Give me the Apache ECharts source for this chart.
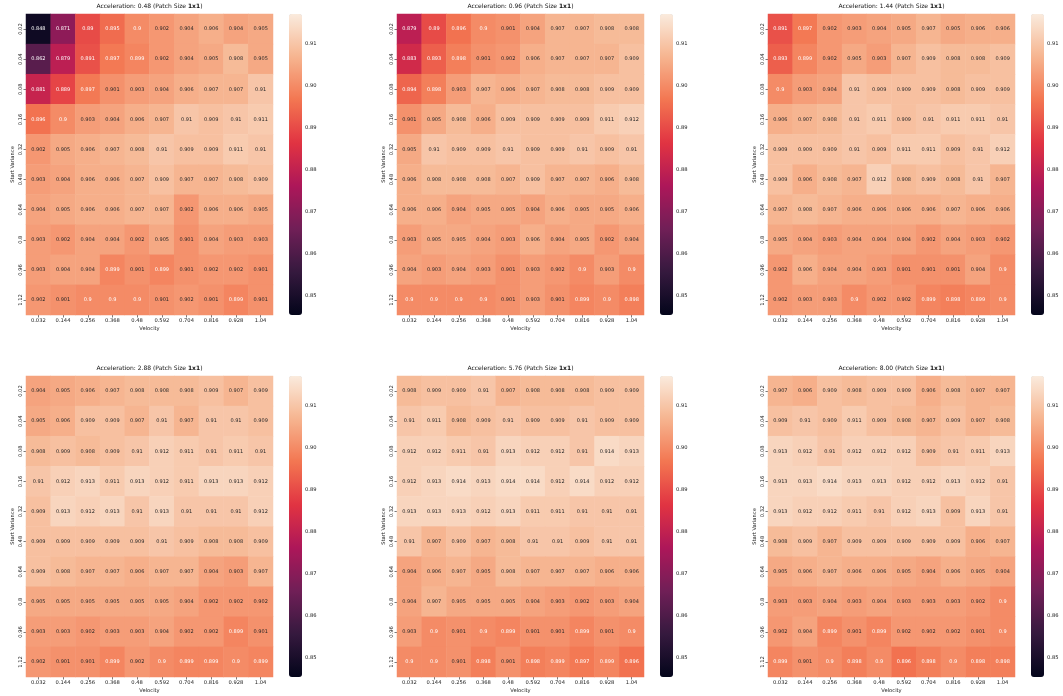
<!DOCTYPE html>
<html><head><meta charset="utf-8">
<script src="https://cdn.jsdelivr.net/npm/echarts@6/dist/echarts.min.js"></script>
<style>html,body{margin:0;padding:0;background:#fff}#c{width:1063px;height:696px}</style>
</head><body><div id="c"></div>
<script>
const velocities = ['0.032','0.144','0.256','0.368','0.48','0.592','0.704','0.816','0.928','1.04'];
const startVariances = ['0.02','0.04','0.08','0.16','0.32','0.48','0.64','0.8','0.96','1.12'];
const accelerations = ['0.48','0.96','1.44','2.88','5.76','8.00'];
const cbarTicks = [0.85,0.86,0.87,0.88,0.89,0.90,0.91];

const acc048 = [
 [0.848,0.871,0.89,0.895,0.9,0.902,0.904,0.906,0.904,0.905],
 [0.862,0.879,0.891,0.897,0.899,0.902,0.904,0.905,0.908,0.905],
 [0.881,0.889,0.897,0.901,0.903,0.904,0.906,0.907,0.907,0.91],
 [0.896,0.9,0.903,0.904,0.906,0.907,0.91,0.909,0.91,0.911],
 [0.902,0.905,0.906,0.907,0.908,0.91,0.909,0.909,0.911,0.91],
 [0.903,0.904,0.906,0.906,0.907,0.909,0.907,0.907,0.908,0.909],
 [0.904,0.905,0.906,0.906,0.907,0.907,0.902,0.906,0.906,0.905],
 [0.903,0.902,0.904,0.904,0.902,0.905,0.901,0.904,0.903,0.903],
 [0.903,0.904,0.904,0.899,0.901,0.899,0.901,0.902,0.902,0.901],
 [0.902,0.901,0.9,0.9,0.9,0.901,0.902,0.901,0.899,0.901]
];
const acc096 = [
 [0.879,0.89,0.896,0.9,0.901,0.904,0.907,0.907,0.908,0.908],
 [0.883,0.893,0.898,0.901,0.902,0.906,0.907,0.907,0.907,0.909],
 [0.894,0.898,0.903,0.907,0.906,0.907,0.908,0.908,0.909,0.909],
 [0.901,0.905,0.908,0.906,0.909,0.909,0.909,0.909,0.911,0.912],
 [0.905,0.91,0.909,0.909,0.91,0.909,0.909,0.91,0.909,0.91],
 [0.906,0.908,0.908,0.908,0.907,0.909,0.907,0.907,0.906,0.908],
 [0.906,0.906,0.904,0.905,0.905,0.904,0.906,0.905,0.905,0.906],
 [0.903,0.905,0.905,0.904,0.903,0.906,0.904,0.905,0.902,0.904],
 [0.904,0.903,0.904,0.903,0.901,0.903,0.902,0.9,0.903,0.9],
 [0.9,0.9,0.9,0.9,0.901,0.903,0.901,0.899,0.9,0.898]
];
const acc144 = [
 [0.891,0.897,0.902,0.903,0.904,0.905,0.907,0.905,0.906,0.906],
 [0.893,0.899,0.902,0.905,0.903,0.907,0.909,0.908,0.908,0.909],
 [0.9,0.903,0.904,0.91,0.909,0.909,0.909,0.908,0.909,0.909],
 [0.906,0.907,0.908,0.91,0.911,0.909,0.91,0.911,0.911,0.91],
 [0.909,0.909,0.909,0.91,0.909,0.911,0.911,0.909,0.91,0.912],
 [0.909,0.906,0.908,0.907,0.912,0.908,0.909,0.908,0.91,0.907],
 [0.907,0.908,0.907,0.906,0.906,0.906,0.906,0.907,0.906,0.906],
 [0.905,0.904,0.903,0.904,0.904,0.904,0.902,0.904,0.903,0.902],
 [0.902,0.906,0.904,0.904,0.903,0.901,0.901,0.901,0.904,0.9],
 [0.902,0.903,0.903,0.9,0.902,0.902,0.899,0.898,0.899,0.9]
];
const acc288 = [
 [0.904,0.905,0.906,0.907,0.908,0.908,0.908,0.909,0.907,0.909],
 [0.905,0.906,0.909,0.909,0.907,0.91,0.907,0.91,0.91,0.909],
 [0.908,0.909,0.908,0.909,0.91,0.912,0.911,0.91,0.911,0.91],
 [0.91,0.912,0.913,0.911,0.913,0.912,0.911,0.913,0.913,0.912],
 [0.909,0.913,0.912,0.913,0.91,0.913,0.91,0.91,0.91,0.912],
 [0.909,0.909,0.909,0.909,0.909,0.91,0.909,0.908,0.908,0.909],
 [0.909,0.908,0.907,0.907,0.906,0.907,0.907,0.904,0.903,0.907],
 [0.905,0.905,0.905,0.905,0.905,0.905,0.904,0.902,0.902,0.902],
 [0.903,0.903,0.902,0.903,0.903,0.904,0.902,0.902,0.899,0.901],
 [0.902,0.901,0.901,0.899,0.902,0.9,0.899,0.899,0.9,0.899]
];
const acc576 = [
 [0.908,0.909,0.909,0.91,0.907,0.908,0.908,0.908,0.909,0.909],
 [0.91,0.911,0.908,0.909,0.91,0.909,0.909,0.91,0.909,0.909],
 [0.912,0.912,0.911,0.91,0.913,0.912,0.912,0.91,0.914,0.913],
 [0.912,0.913,0.914,0.913,0.914,0.914,0.912,0.914,0.912,0.912],
 [0.913,0.913,0.913,0.912,0.913,0.911,0.911,0.91,0.91,0.91],
 [0.91,0.907,0.909,0.907,0.908,0.91,0.91,0.909,0.91,0.91],
 [0.904,0.906,0.907,0.905,0.908,0.907,0.907,0.907,0.906,0.906],
 [0.904,0.907,0.905,0.905,0.905,0.904,0.903,0.902,0.903,0.904],
 [0.903,0.9,0.901,0.9,0.899,0.901,0.901,0.899,0.901,0.9],
 [0.9,0.9,0.901,0.898,0.901,0.898,0.899,0.897,0.899,0.896]
];
const acc800 = [
 [0.907,0.906,0.909,0.908,0.909,0.909,0.906,0.908,0.907,0.907],
 [0.909,0.91,0.909,0.911,0.909,0.908,0.907,0.909,0.907,0.908],
 [0.913,0.912,0.91,0.912,0.912,0.912,0.909,0.91,0.911,0.913],
 [0.913,0.913,0.914,0.913,0.913,0.912,0.912,0.913,0.912,0.91],
 [0.913,0.912,0.912,0.911,0.91,0.912,0.913,0.909,0.913,0.91],
 [0.908,0.909,0.907,0.909,0.909,0.909,0.909,0.909,0.906,0.907],
 [0.905,0.906,0.907,0.906,0.906,0.905,0.904,0.906,0.905,0.904],
 [0.903,0.903,0.904,0.903,0.904,0.903,0.903,0.903,0.902,0.9],
 [0.902,0.904,0.899,0.901,0.899,0.902,0.902,0.902,0.901,0.9],
 [0.899,0.901,0.9,0.898,0.9,0.896,0.898,0.9,0.898,0.898]
];
const panels = [acc048, acc096, acc144, acc288, acc576, acc800];

const VMIN = 0.8455, VMAX = 0.917;
const ROCKET = ['#03051a','#35193e','#701f57','#ad1759','#e13342','#f37651','#f6b48f','#faebdd'];
const FONT = 'DejaVu Sans';
const COL_LEFT = [26, 397, 768];
const ROW_TOP = [14, 376];
const W = 247, H = 301, CB_GAP = 16, CB_W = 13;

const fmt = v => String(Number(v.toPrecision(3)));

const grids = [], xAxes = [], yAxes = [], series = [], helpers = [], visualMaps = [], titles = [];
for (let i = 0; i < 6; i++) {
  const col = i % 3, row = Math.floor(i / 3);
  const L = COL_LEFT[col], T = ROW_TOP[row];
  grids.push({left: L, top: T, width: W, height: H});
  grids.push({left: L + W + CB_GAP, top: T, width: CB_W, height: H});
  const tickStyle = {show: true, alignWithLabel: true, length: 2.5, lineStyle: {color: '#222', width: 0.6}};
  xAxes.push({
    gridIndex: 2 * i, type: 'category', data: velocities, position: 'bottom',
    axisLine: {show: false}, axisTick: tickStyle, splitLine: {show: false},
    axisLabel: {fontFamily: FONT, fontSize: 5.2, color: '#222', margin: 3, interval: 0},
    name: 'Velocity', nameLocation: 'middle', nameGap: 11,
    nameTextStyle: {fontFamily: FONT, fontSize: 5.2, color: '#222'}
  });
  xAxes.push({gridIndex: 2 * i + 1, type: 'value', min: 0, max: 1, show: false});
  yAxes.push({
    gridIndex: 2 * i, type: 'category', data: startVariances, inverse: true,
    axisLine: {show: false}, axisTick: tickStyle, splitLine: {show: false},
    axisLabel: {fontFamily: FONT, fontSize: 5.2, color: '#222', margin: 3, rotate: 90, interval: 0},
    name: 'Start Variance', nameLocation: 'middle', nameGap: 11, nameRotate: 90,
    nameTextStyle: {fontFamily: FONT, fontSize: 5.2, color: '#222'}
  });
  yAxes.push({
    gridIndex: 2 * i + 1, type: 'value', min: VMIN, max: VMAX, position: 'right',
    axisLine: {show: false}, splitLine: {show: false},
    axisTick: {show: true, customValues: cbarTicks, length: 2.5, lineStyle: {color: '#222', width: 0.6}},
    axisLabel: {customValues: cbarTicks, fontFamily: FONT, fontSize: 5.2, color: '#222', margin: 3,
                formatter: v => v.toFixed(2)}
  });
  const data = [];
  panels[i].forEach((rowVals, r) => rowVals.forEach((v, c) => {
    data.push({value: [c, r, v], label: {color: v <= 0.9 ? '#ffffff' : '#262626'}});
  }));
  series.push({
    type: 'heatmap', xAxisIndex: 2 * i, yAxisIndex: 2 * i, data: data,
    label: {show: true, fontFamily: FONT, fontSize: 5, formatter: p => fmt(p.value[2])},
    emphasis: {disabled: true}, itemStyle: {borderWidth: 0}
  });
  helpers.push({type: 'scatter', xAxisIndex: 2 * i + 1, yAxisIndex: 2 * i + 1, data: [], silent: true});
  visualMaps.push({
    type: 'continuous', seriesIndex: i, min: VMIN, max: VMAX, inRange: {color: ROCKET},
    left: L + W + CB_GAP, top: T, itemWidth: CB_W, itemHeight: H, padding: 0,
    calculable: false, hoverLink: false, orient: 'vertical'
  });
  titles.push({
    text: '{n|Acceleration: ' + accelerations[i] + ' (Patch Size }{b|1x1}{n|)}',
    left: L + W / 2, top: T - 11, textAlign: 'center', padding: 0,
    textStyle: {fontWeight: 'normal', fontFamily: FONT, fontSize: 6, color: '#111', rich: {
      n: {fontFamily: FONT, fontSize: 6, color: '#111', fontWeight: 'normal'},
      b: {fontFamily: FONT, fontSize: 6, color: '#111', fontWeight: 'bold'}
    }}
  });
}

const chart = echarts.init(document.getElementById('c'), null, {renderer: 'canvas'});
chart.setOption({
  animation: false,
  backgroundColor: '#ffffff',
  title: titles,
  grid: grids,
  xAxis: xAxes,
  yAxis: yAxes,
  visualMap: visualMaps,
  series: series.concat(helpers)
});
</script>
</body></html>
